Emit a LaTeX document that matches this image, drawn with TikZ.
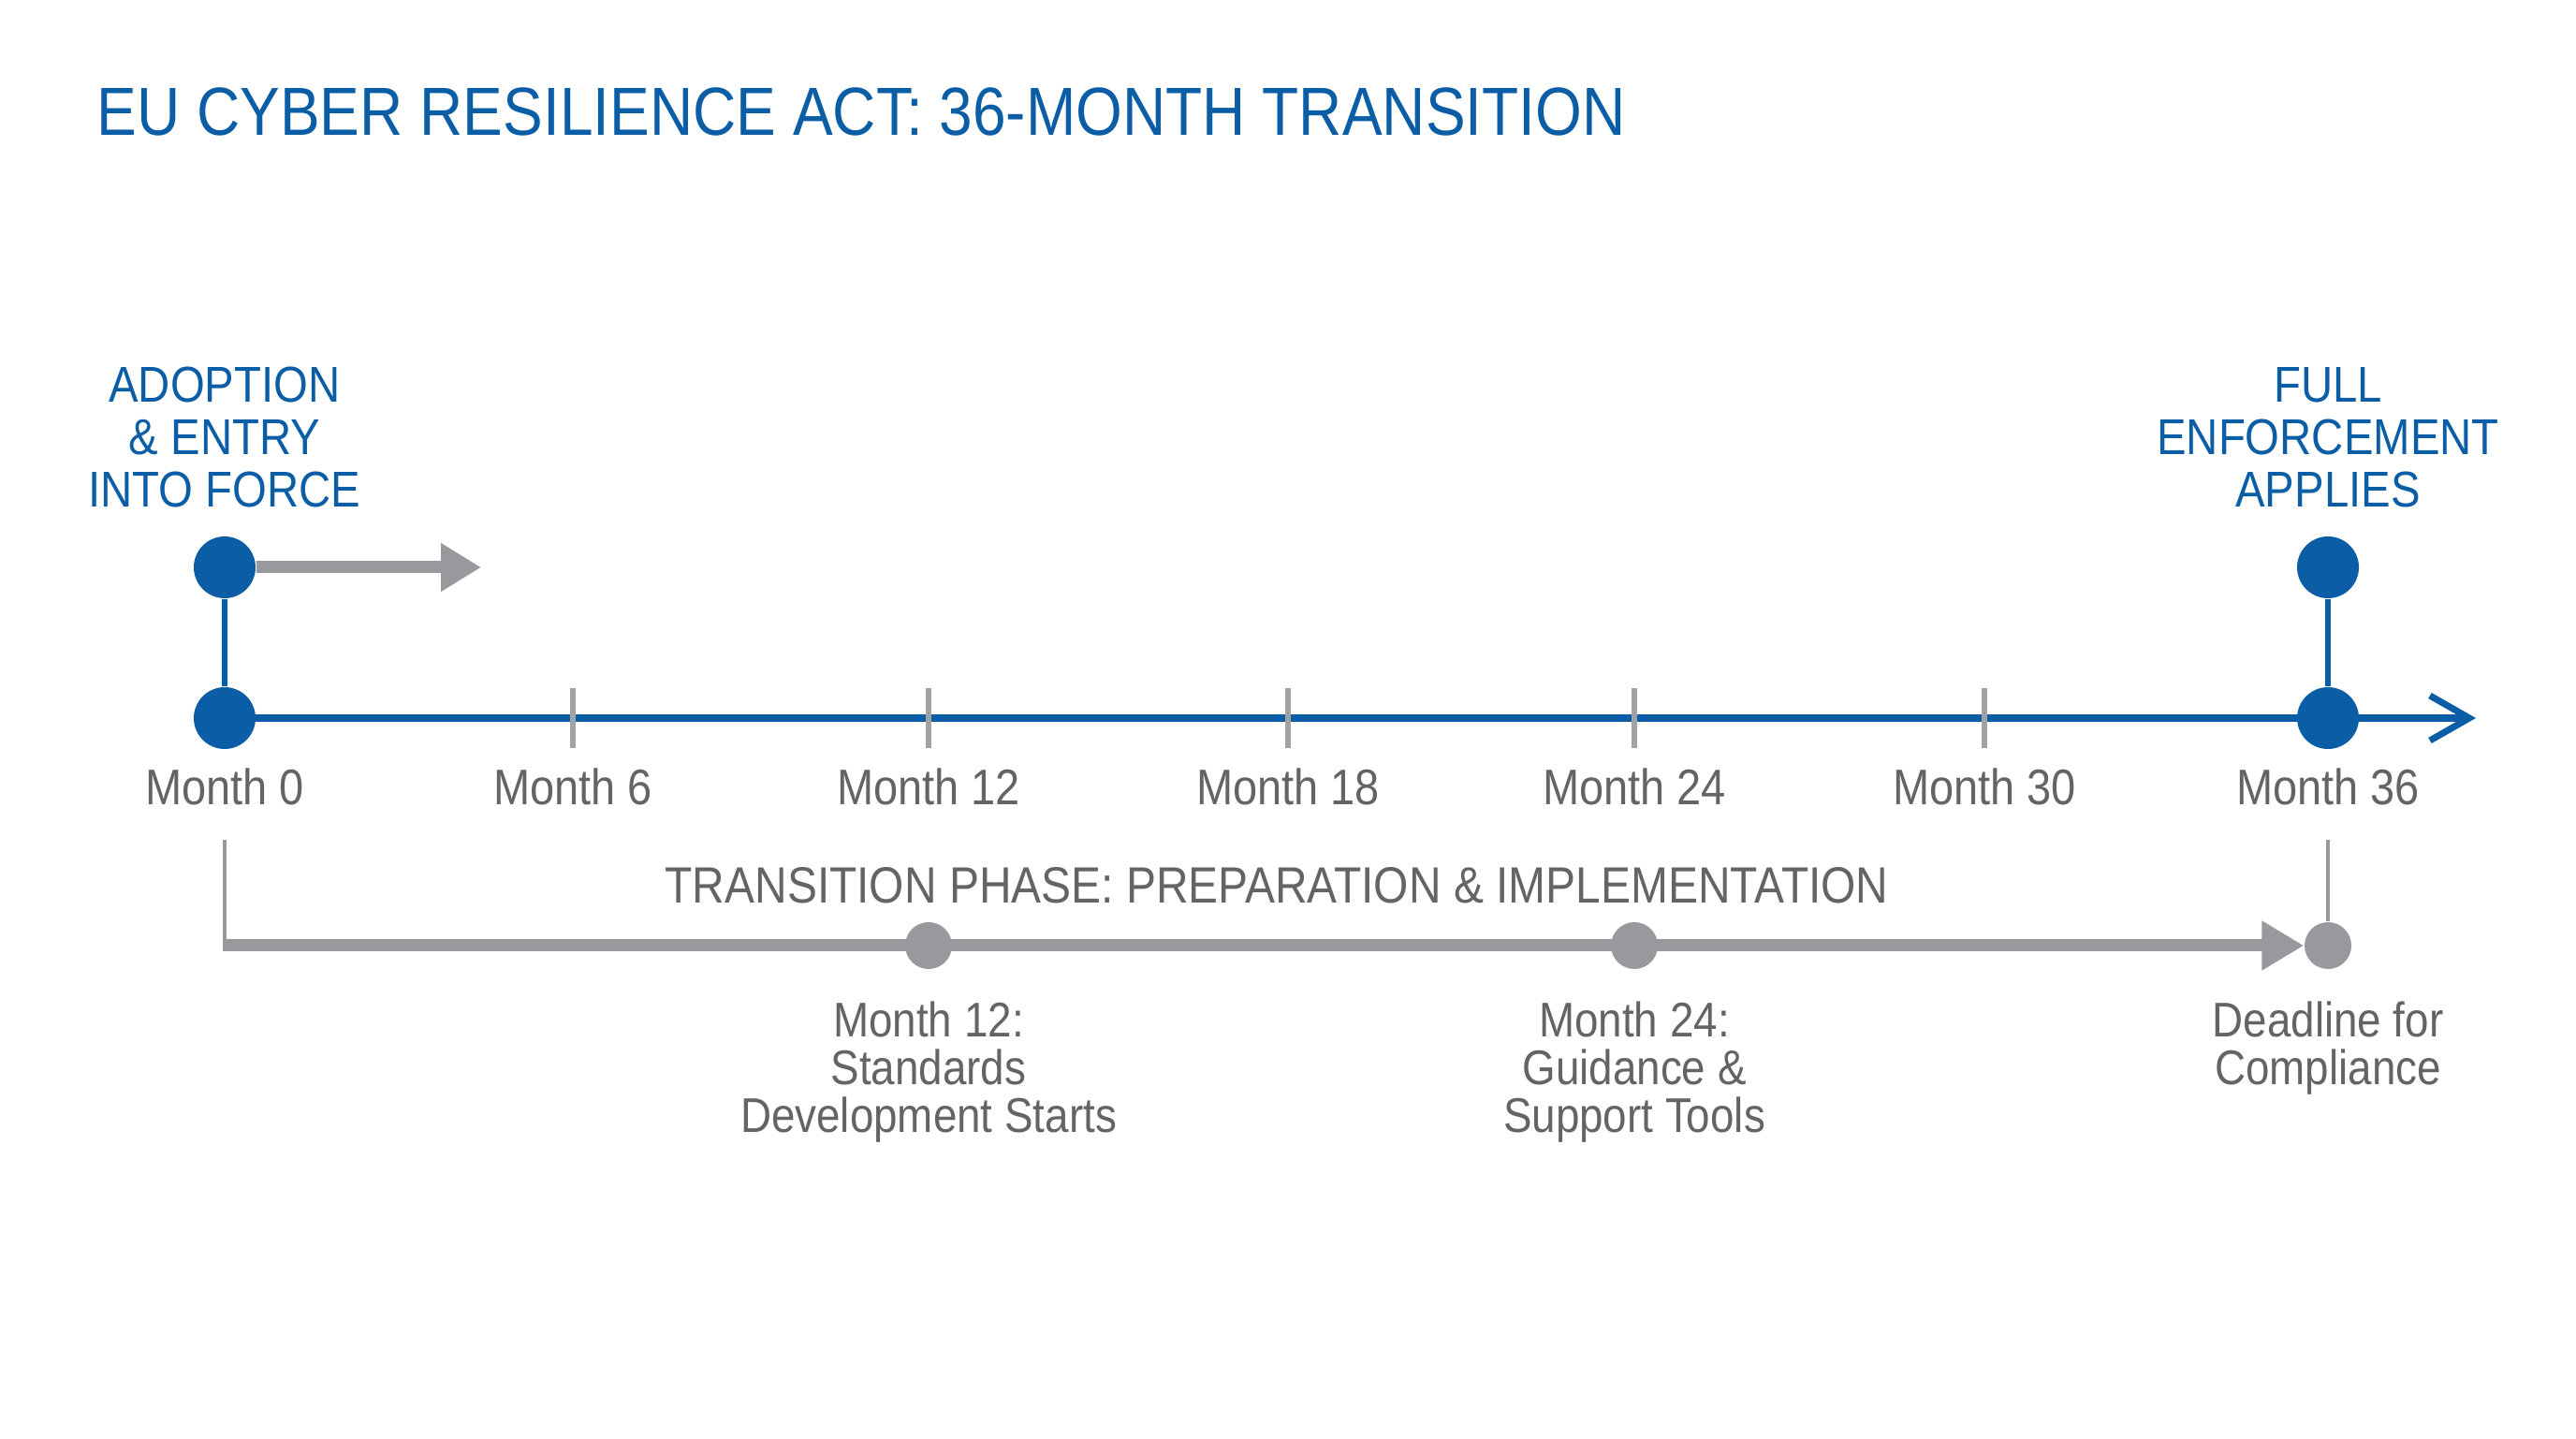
\documentclass[tikz,border=0pt]{standalone}
\usepackage{fontspec}
\setmainfont{Liberation Sans}[FakeStretch=0.88]
\usetikzlibrary{arrows.meta,positioning}
\definecolor{cyblue}{RGB}{11,94,165}
\definecolor{cygray}{RGB}{152,153,157}
\definecolor{cytext}{RGB}{100,100,100}

\begin{document}
\begin{tikzpicture}[
  dot/.style={circle,fill=cyblue,inner sep=0pt,minimum size=6.6mm},
  gdot/.style={circle,fill=cygray,inner sep=0pt,minimum size=5mm},
  axisline/.style={draw=cyblue,line width=2pt,-{Straight Barb[length=4.2mm,width=4.8mm]}},
  stem/.style={draw=cyblue,line width=1.8pt},
  tickmark/.style={draw=cygray!90!white,line width=1.6pt},
  thinline/.style={draw=cygray,line width=1.2pt},
  phasearrow/.style={draw=cygray,line width=3.7pt,-{Triangle[length=4.5mm,width=5mm]}},
  monthlbl/.style={text=cytext,font=\fontsize{15.2}{17}\selectfont,anchor=base},
  toplbl/.style={text=cyblue,font=\fontsize{15.3}{15.8}\selectfont,align=center,inner sep=0pt},
  lowlbl/.style={text=cytext,font=\fontsize{14.8}{14.5}\selectfont,align=center,inner sep=0pt}
]
\useasboundingbox (0,0) rectangle (27.52,15.36);

% title
\node[text=cyblue,font=\fontsize{20.7}{24}\selectfont,inner sep=0pt,anchor=base west] (title) at (1.03,13.91)
  {EU CYBER RESILIENCE ACT: 36-MONTH TRANSITION};

% time axis
\foreach \m/\x in {0/2.40,6/6.12,12/9.92,18/13.76,24/17.46,30/21.20,36/24.87}
  \coordinate (t\m) at (\x,7.69);
\coordinate (axisend) at (26.45,7.69);
\draw[axisline] (t0) -- (axisend);
\foreach \m in {6,12,...,30}
  \draw[tickmark] ([yshift=-3.2mm]t\m) -- ([yshift=3.2mm]t\m);
\foreach \m in {0,6,...,36}
  \node[monthlbl] (lbl\m) at ([yshift=-9.3mm]t\m) {Month \m};

\node[dot] (m0) at (t0) {};
\node[dot] (m36) at (t36) {};
\node[dot] (adopt) at (2.40,9.30) {};
\node[dot] (enforce) at (24.87,9.30) {};
\draw[stem] (adopt) -- (m0);
\draw[stem] (enforce) -- (m36);

\coordinate (adoptarrow) at (5.14,9.30);
\draw[draw=cygray,line width=3.7pt,-{Triangle[length=4.3mm,width=4.9mm]}] (adopt.east) -- (adoptarrow);

\node[toplbl,above=3.0mm of adopt] (adoptlbl) {ADOPTION\\ \& ENTRY\\ INTO FORCE};
\node[toplbl,above=3.0mm of enforce] (enforcelbl) {FULL\\ ENFORCEMENT\\ APPLIES};

% transition phase
\node[text=cytext,font=\fontsize{15.5}{18}\selectfont,anchor=base] (phase) at (13.64,5.71)
  {TRANSITION PHASE: PREPARATION \& IMPLEMENTATION};
\coordinate (phasetop) at (2.40,6.39);
\coordinate (phasecorner) at (2.40,5.26);
\coordinate (deadtop) at (24.87,6.39);
\node[gdot] (deadline) at (24.87,5.26) {};
\draw[thinline] (phasetop) -- (phasecorner);
\draw[thinline] (deadtop) -- (deadline);
\draw[phasearrow] ([xshift=-0.6pt]phasecorner) -- (deadline.west);
\node[gdot] (g12) at (t12 |- phasecorner) {};
\node[gdot] (g24) at (t24 |- phasecorner) {};

\node[lowlbl,below=3.3mm of g12] (g12lbl) {Month 12:\\ Standards\\ Development Starts};
\node[lowlbl,below=3.3mm of g24] (g24lbl) {Month 24:\\ Guidance \&\\ Support Tools};
\node[lowlbl,below=3.3mm of deadline] (deadlbl) {Deadline for\\ Compliance};
\end{tikzpicture}
\end{document}
